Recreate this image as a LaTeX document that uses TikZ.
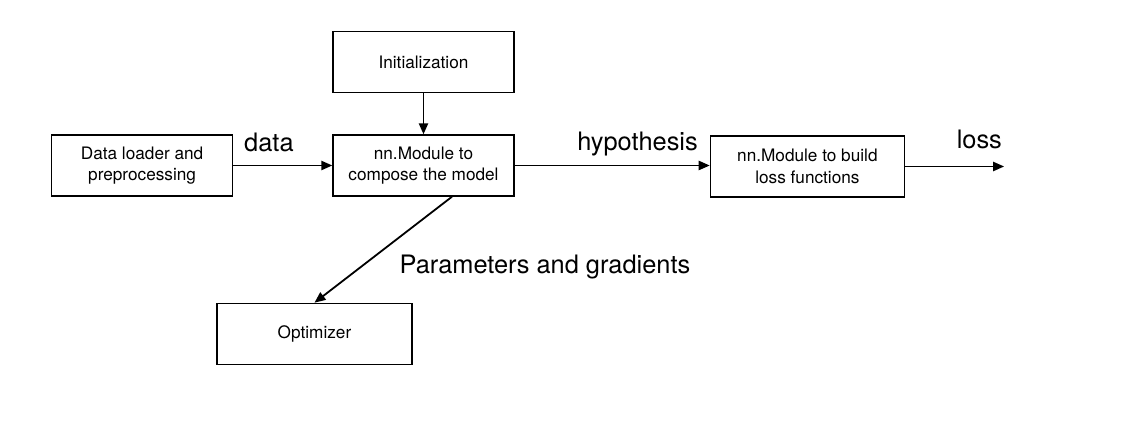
\documentclass[tikz,border=0pt]{standalone}
\usepackage{fontspec}
\setmainfont{TeX Gyre Heros}
\usepackage{tikz}
\usetikzlibrary{arrows.meta, positioning}

\begin{document}
\begin{tikzpicture}[
    node distance=20pt and 50pt,
    >={Triangle[length=5.5pt, width=4.6pt]},
    block/.style={
        rectangle, draw=black, line width=0.7pt, fill=white,
        minimum width=#1, minimum height=30.5pt,
        align=center, font=\fontsize{8.6}{10.8}\selectfont
    },
    block/.default={90.5pt},
    flowlabel/.style={
        font=\fontsize{12.7}{15}\selectfont, inner sep=0pt, text depth=0pt
    },
    arrow/.style={
        ->, line width=0.9pt, black
    }
]

% ── Canvas ──
\useasboundingbox (-211.75pt,-138.25pt) rectangle (356.25pt,82.75pt);

% ── Model ──
\node[block] (compose) at (0,0) {nn.Module to\\compose the model};

% ── Initialization ──
\node[block, above=20.5pt of compose] (init) {Initialization};

% ── Data loader ──
\node[block, left=49.5pt of compose] (loader) {Data loader and\\preprocessing};

% ── Loss ──
\node[block=97pt, right=97.5pt of compose, yshift=-0.5pt] (lossfn) {nn.Module to build\\loss functions};
\coordinate[right=49.5pt of lossfn.east] (lossout);

% ── Optimizer ──
\node[block=97.5pt, below=53pt of compose, xshift=-54.5pt] (optim) {Optimizer};
\coordinate (paramsrc) at ([xshift=14.25pt]compose.south);

% ── Arrows ──
\draw[arrow] (init) -- (compose);
\draw[arrow] (loader) -- node[flowlabel, above=6.5pt, pos=0.36] {data} (compose);
\draw[arrow] (compose.east) -- node[flowlabel, above=7pt, pos=0.63] {hypothesis} (compose.east -| lossfn.west);
\draw[arrow] (lossfn.east) -- node[flowlabel, above=8.3pt, pos=0.75] {loss} (lossout);
\draw[arrow] (paramsrc) -- node[flowlabel, pos=0.5, anchor=base west, xshift=7.75pt, yshift=-12pt] {Parameters and gradients} (optim.north);

\end{tikzpicture}
\end{document}
